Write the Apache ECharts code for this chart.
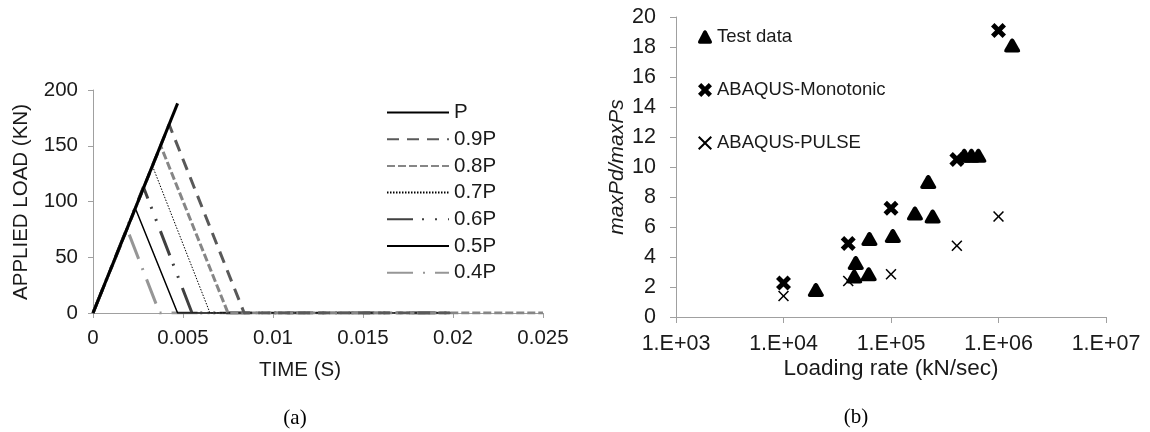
<!DOCTYPE html>
<html>
<head>
<meta charset="utf-8">
<script src="https://cdn.jsdelivr.net/npm/echarts@6/dist/echarts.min.js"></script>
<style>
html,body{margin:0;padding:0;background:#fff;}
#main{width:1150px;height:432px;}
</style>
</head>
<body>
<div id="main"></div>
<script>
// ---- Chart (a): applied load vs time ----
const loadNames = ['P', '0.9P', '0.8P', '0.7P', '0.6P', '0.5P', '0.4P'];
const loadP   = [[0, 0], [0.0047, 188]];
const load09P = [[0, 0], [0.00423, 169], [0.0084, 0], [0.02, 0]];
const load08P = [[0, 0], [0.00376, 150], [0.0075, 0], [0.025, 0]];
const load07P = [[0, 0], [0.0033, 132], [0.0065, 0], [0.02, 0]];
const load06P = [[0, 0], [0.0028, 113], [0.0055, 0], [0.02, 0]];
const load05P = [[0, 0], [0.00235, 94], [0.0047, 0], [0.02, 0]];
const load04P = [[0, 0], [0.0019, 75], [0.0037, 0], [0.02, 0]];
const timeTicks = [0, 0.005, 0.01, 0.015, 0.02, 0.025];
const loadTicks = [0, 50, 100, 150, 200];

// ---- Chart (b): dynamic ratio vs loading rate ----
const scatterNames = ['Test data', 'ABAQUS-Monotonic', 'ABAQUS-PULSE'];
const testRate  = [2.0e4, 4.7e4, 4.55e4, 6.3e4, 6.2e4, 1.04e5, 1.67e5, 2.44e5, 2.22e5, 4.8e5, 5.6e5, 6.5e5, 1.34e6];
const testRatio = [1.8, 3.6, 2.7, 5.2, 2.85, 5.4, 6.9, 6.7, 9.0, 10.75, 10.75, 10.75, 18.1];
const monoRate  = [1.0e4, 4.0e4, 1.0e5, 4.1e5, 1.0e6];
const monoRatio = [2.27, 4.9, 7.25, 10.5, 19.1];
const pulseRate  = [1.0e4, 4.0e4, 1.0e5, 4.1e5, 1.0e6];
const pulseRatio = [1.4, 2.4, 2.85, 4.75, 6.7];
const rateTicks = ['1.E+03', '1.E+04', '1.E+05', '1.E+06', '1.E+07'];

const FONT = '"Liberation Sans", Arial, sans-serif';
const AX = '#a0a0a0';
const TXT = '#1a1a1a';

function xPath(t) {
  const a = t, b = 50 - t, c = 100 - t, d = 50 + t;
  return 'path://M0,' + a + ' L' + a + ',0 L50,' + b + ' L' + c + ',0 L100,' + a +
    ' L' + d + ',50 L100,' + c + ' L' + c + ',100 L50,' + d + ' L' + a + ',100 L0,' + c +
    ' L' + b + ',50 Z';
}
const triPath = 'path://M50,4 C56,4 59,8 62,13 L96,78 C101,89 96,96 85,96 L15,96 C4,96 -1,89 4,78 L38,13 C41,8 44,4 50,4 Z';

function zip(xs, ys) { return xs.map((x, i) => [x, ys[i]]); }

const lineStyles = [
  { color: '#000000', width: 3, type: 'solid' },
  { color: '#595959', width: 3, type: [12, 8] },
  { color: '#868686', width: 3, type: [8, 3] },
  { color: '#000000', width: 1, type: [1.5, 1.5] },
  { color: '#404040', width: 3, type: [26, 9, 2, 11, 2, 11] },
  { color: '#000000', width: 1.5, type: 'solid' },
  { color: '#969696', width: 3, type: [26, 10, 2, 10] }
];
const loadData = [loadP, load09P, load08P, load07P, load06P, load05P, load04P];

const lineSeries = loadNames.map((n, i) => ({
  name: n,
  type: 'line',
  xAxisIndex: 0,
  yAxisIndex: 0,
  data: loadData[i],
  symbol: 'none',
  lineStyle: lineStyles[i],
  itemStyle: { color: lineStyles[i].color },
  z: 10 - i,
  animation: false
}));

const scatterSeries = [
  { name: scatterNames[0], type: 'scatter', xAxisIndex: 1, yAxisIndex: 1,
    data: zip(testRate, testRatio), symbol: triPath, symbolSize: [16, 14],
    itemStyle: { color: '#000', opacity: 1 }, animation: false },
  { name: scatterNames[1], type: 'scatter', xAxisIndex: 1, yAxisIndex: 1,
    data: zip(monoRate, monoRatio), symbol: xPath(23), symbolSize: 15,
    itemStyle: { color: '#000', opacity: 1 }, animation: false },
  { name: scatterNames[2], type: 'scatter', xAxisIndex: 1, yAxisIndex: 1,
    data: zip(pulseRate, pulseRatio), symbol: xPath(10), symbolSize: 11,
    itemStyle: { color: '#000', opacity: 1 }, animation: false }
];

const chart = echarts.init(document.getElementById('main'), null, { renderer: 'canvas' });
chart.setOption({
  backgroundColor: '#fff',
  animation: false,
  textStyle: { fontFamily: FONT },
  grid: [
    { left: 93, top: 90, width: 450, height: 223, containLabel: false },
    { left: 676, top: 17, width: 430, height: 300, containLabel: false }
  ],
  xAxis: [
    { gridIndex: 0, type: 'value', min: 0, max: 0.025, interval: 0.005,
      axisLine: { lineStyle: { color: AX, width: 1 } },
      axisTick: { show: true, length: 5, lineStyle: { color: AX } },
      splitLine: { show: false },
      axisLabel: { color: TXT, fontSize: 20.5, fontFamily: FONT, margin: 15,
        formatter: v => { const k = Math.round(v / 0.005); return String(timeTicks[k]); } } },
    { gridIndex: 1, type: 'log', logBase: 10, min: 1e3, max: 1e7,
      axisLine: { lineStyle: { color: AX, width: 1 } },
      axisTick: { show: true, length: 6, lineStyle: { color: AX } },
      minorTick: { show: false },
      splitLine: { show: false },
      axisLabel: { color: TXT, fontSize: 21.5, fontFamily: FONT, margin: 16,
        formatter: v => rateTicks[Math.round(Math.log10(v)) - 3] } }
  ],
  yAxis: [
    { gridIndex: 0, type: 'value', min: 0, max: 200, interval: 50,
      axisLine: { show: true, lineStyle: { color: AX, width: 1 } },
      axisTick: { show: true, length: 5, lineStyle: { color: AX } },
      splitLine: { show: false },
      axisLabel: { color: TXT, fontSize: 20.5, fontFamily: FONT, margin: 15,
        formatter: v => String(loadTicks[Math.round(v / 50)]) } },
    { gridIndex: 1, type: 'value', min: 0, max: 20, interval: 2,
      axisLine: { show: true, lineStyle: { color: AX, width: 1 } },
      axisTick: { show: true, length: 6, lineStyle: { color: AX } },
      splitLine: { show: false },
      axisLabel: { color: TXT, fontSize: 21.5, fontFamily: FONT, margin: 20 } }
  ],
  legend: [
    { data: loadNames, orient: 'vertical', left: 381, top: 97,
      itemWidth: 62, itemHeight: 12, itemGap: 5.7,
      itemStyle: { opacity: 0 },
      textStyle: { color: TXT, fontSize: 20.5, fontFamily: FONT, lineHeight: 20 },
      selectedMode: false },
    { data: scatterNames, orient: 'vertical', left: 693, top: 22,
      itemWidth: 14, itemHeight: 14, itemGap: 33,
      textStyle: { color: TXT, fontSize: 18.5, fontFamily: FONT, lineHeight: 20 },
      selectedMode: false }
  ],
  graphic: [
    { type: 'text', x: 21, y: 202, rotation: Math.PI / 2,
      style: { text: 'APPLIED LOAD (KN)', fontSize: 20.5, fontFamily: FONT, fill: TXT,
        textAlign: 'center', textVerticalAlign: 'middle' } },
    { type: 'text', x: 300, y: 370,
      style: { text: 'TIME (S)', fontSize: 20.5, fontFamily: FONT, fill: TXT,
        textAlign: 'center', textVerticalAlign: 'middle' } },
    { type: 'text', x: 617, y: 167, rotation: Math.PI / 2,
      style: { text: 'maxPd/maxPs', fontSize: 21, fontStyle: 'italic', fontFamily: FONT, fill: TXT,
        textAlign: 'center', textVerticalAlign: 'middle' } },
    { type: 'text', x: 891, y: 369,
      style: { text: 'Loading rate (kN/sec)', fontSize: 22.5, fontFamily: FONT, fill: TXT,
        textAlign: 'center', textVerticalAlign: 'middle' } },
    { type: 'text', x: 295, y: 418,
      style: { text: '(a)', fontSize: 21, fontFamily: '"Liberation Serif", "Times New Roman", serif', fill: '#000',
        textAlign: 'center', textVerticalAlign: 'middle' } },
    { type: 'text', x: 856, y: 417,
      style: { text: '(b)', fontSize: 21, fontFamily: '"Liberation Serif", "Times New Roman", serif', fill: '#000',
        textAlign: 'center', textVerticalAlign: 'middle' } }
  ],
  series: lineSeries.concat(scatterSeries)
});
</script>
</body>
</html>
